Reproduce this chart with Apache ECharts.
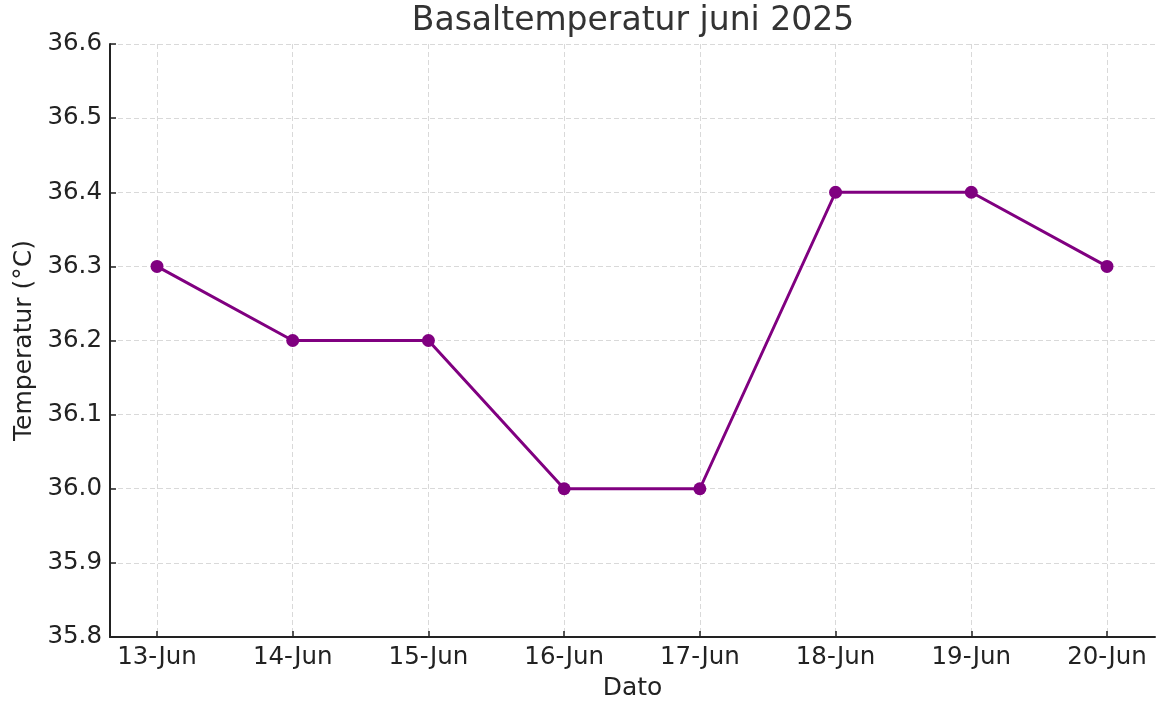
<!DOCTYPE html>
<html><head><meta charset="utf-8">
<script src="https://cdn.jsdelivr.net/npm/echarts@6/dist/echarts.min.js"></script>
<style>html,body{margin:0;padding:0;background:#fff}#c{width:1170px;height:715px}</style>
</head><body><div id="c"></div>
<script>
const categories = ['13-Jun','14-Jun','15-Jun','16-Jun','17-Jun','18-Jun','19-Jun','20-Jun'];
const temps = [36.3, 36.2, 36.2, 36.0, 36.0, 36.4, 36.4, 36.3];
const yTicks = [35.8, 35.9, 36.0, 36.1, 36.2, 36.3, 36.4, 36.5, 36.6];
const titleText = 'Basaltemperatur juni 2025';
const xName = 'Dato';
const yName = 'Temperatur (°C)';

const font = 'DejaVu Sans';
const chart = echarts.init(document.getElementById('c'), null, {renderer: 'canvas'});
const yMin = yTicks[0], yMax = yTicks[yTicks.length - 1];
chart.setOption({
  animation: false,
  backgroundColor: '#fff',
  title: {text: titleText, left: 628, top: 0, textAlign: 'center',
    textStyle: {fontFamily: font, fontSize: 33, fontWeight: 'normal', color: '#333'}},
  grid: [
    {left: 110, right: 15, top: 44, bottom: 78},
    {left: 157, right: 63, top: 44, bottom: 78}
  ],
  xAxis: [
    {gridIndex: 0, type: 'value', min: 0, max: 1, show: true,
      axisLine: {show: true, lineStyle: {color: '#222', width: 2}},
      axisTick: {show: false}, axisLabel: {show: false}, splitLine: {show: false},
      name: xName, nameLocation: 'middle', nameGap: 39,
      nameTextStyle: {fontFamily: font, fontSize: 25, color: '#222'}},
    {gridIndex: 1, type: 'category', data: categories, boundaryGap: false,
      axisLine: {show: false},
      axisTick: {show: true, inside: true, length: 6, lineStyle: {color: '#222', width: 1.5}},
      axisLabel: {fontFamily: font, fontSize: 24.5, color: '#222', margin: 8},
      splitLine: {show: true, lineStyle: {color: '#d9d9d9', type: [5, 3], width: 1}}}
  ],
  yAxis: [
    {gridIndex: 0, type: 'value', min: yMin, max: yMax, interval: 0.1,
      axisLine: {show: true, lineStyle: {color: '#222', width: 2}},
      axisTick: {show: true, inside: true, length: 6, lineStyle: {color: '#222', width: 1.5}},
      axisLabel: {fontFamily: font, fontSize: 24.5, color: '#222', margin: 8,
        padding: [5, 0, 0, 0], formatter: v => v.toFixed(1)},
      splitLine: {show: true, lineStyle: {color: '#d9d9d9', type: [5, 3], width: 1}},
      name: yName, nameLocation: 'middle', nameGap: 71,
      nameTextStyle: {fontFamily: font, fontSize: 25, color: '#222'}},
    {gridIndex: 1, type: 'value', min: yMin, max: yMax, show: false}
  ],
  series: [{
    type: 'line', xAxisIndex: 1, yAxisIndex: 1, data: temps,
    symbol: 'circle', symbolSize: 13,
    lineStyle: {color: '#800080', width: 3},
    itemStyle: {color: '#800080'}, z: 5
  }]
});
</script></body></html>
